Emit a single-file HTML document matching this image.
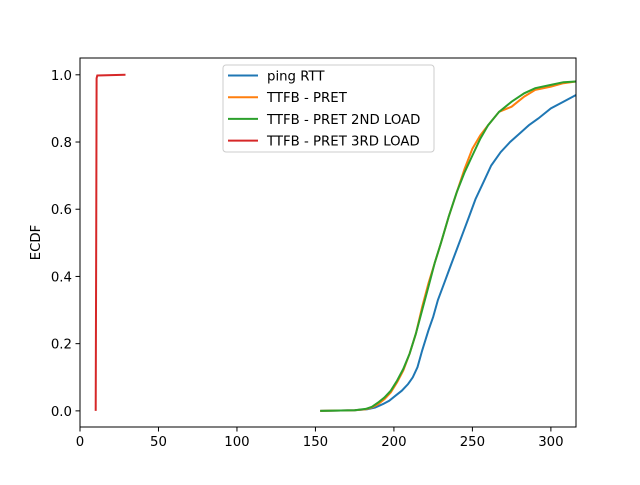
<!DOCTYPE html>
<html><head><meta charset="utf-8"><style>
body{margin:0;background:#fff;}
svg text{font-family:"DejaVu Sans","Liberation Sans",sans-serif;}
</style></head><body>
<svg id="chart" width="640" height="480">
<rect width="640" height="480" fill="#fff"/>
<g id="plot"></g>
</svg>
<script>
const xTicks=[0,50,100,150,200,250,300];
const yTicks=[0.0,0.2,0.4,0.6,0.8,1.0];
const pingX=[153,175,183,188,193,197,201,205,209,212,215,218,222,225,228,232,236,240,244,248,252,257,262,268,274,280,286,292,300,308,316];
const pingY=[0,0.002,0.005,0.01,0.02,0.03,0.045,0.06,0.08,0.1,0.13,0.18,0.24,0.28,0.33,0.38,0.43,0.48,0.53,0.58,0.63,0.68,0.73,0.77,0.8,0.825,0.85,0.87,0.9,0.92,0.94];
const pretX=[153,175,182,186,190,194,198,202,206,210,214,218,222,226,230,235,240,245,250,255,260,267,275,283,290,300,308,316];
const pretY=[0,0.002,0.005,0.01,0.02,0.035,0.055,0.085,0.12,0.17,0.23,0.31,0.38,0.44,0.5,0.58,0.65,0.72,0.78,0.82,0.85,0.89,0.905,0.935,0.955,0.965,0.975,0.98];
const pret2X=[153,175,182,186,190,194,198,202,206,210,214,218,222,226,230,235,240,245,250,255,260,267,275,283,290,300,308,316];
const pret2Y=[0,0.002,0.006,0.012,0.025,0.04,0.06,0.09,0.125,0.17,0.23,0.3,0.37,0.44,0.5,0.58,0.65,0.71,0.76,0.81,0.85,0.89,0.92,0.945,0.96,0.97,0.978,0.98];
const pret3X=[10,10.3,10.6,11,29];
const pret3Y=[0,0.5,0.99,0.998,1.0];
const series=[
 {name:"ping RTT",x:pingX,y:pingY,c:"#1f77b4",id:"ping-rtt"},
 {name:"TTFB - PRET",x:pretX,y:pretY,c:"#ff7f0e",id:"ttfb-pret"},
 {name:"TTFB - PRET 2ND LOAD",x:pret2X,y:pret2Y,c:"#2ca02c",id:"ttfb-pret-2nd-load"},
 {name:"TTFB - PRET 3RD LOAD",x:pret3X,y:pret3Y,c:"#d62728",id:"ttfb-pret-3rd-load"}];
const L=80,R=576,T=58,B=427,xmin=0,xmax=316,ymin=-0.048,ymax=1.05;
const sx=v=>L+(v-xmin)/(xmax-xmin)*(R-L);
const sy=v=>B-(v-ymin)/(ymax-ymin)*(B-T);
const NS="http://www.w3.org/2000/svg",g=document.getElementById('plot');
function mk(t,a,txt){const e=document.createElementNS(NS,t);for(const k in a)e.setAttribute(k,a[k]);if(txt!==undefined)e.textContent=txt;g.appendChild(e);return e;}
const clip=document.createElementNS(NS,'clipPath');clip.setAttribute('id','cp');
const cr=document.createElementNS(NS,'rect');cr.setAttribute('x',L);cr.setAttribute('y',T);cr.setAttribute('width',R-L);cr.setAttribute('height',B-T);clip.appendChild(cr);g.appendChild(clip);
series.forEach(s=>{
 const p=s.x.map((v,i)=>sx(v).toFixed(1)+","+sy(s.y[i]).toFixed(1)).join(" ");
 const e=mk('polyline',{points:p,fill:"none",stroke:s.c,"stroke-width":2,"clip-path":"url(#cp)"});
 
 
});
const ax=mk('rect',{x:L,y:T,width:R-L,height:B-T,fill:"none",stroke:"#000","stroke-width":1});


xTicks.forEach(v=>{const x=sx(v);mk('line',{x1:x,x2:x,y1:B,y2:B+4.5,stroke:"#000","stroke-width":1});
 const t=mk('text',{x:x,y:B+19,"text-anchor":"middle","font-size":13.3},String(v));
 
 });
yTicks.forEach(v=>{const y=sy(v);mk('line',{x1:L-4.5,x2:L,y1:y,y2:y,stroke:"#000","stroke-width":1});
 const t=mk('text',{x:L-8,y:y+5,"text-anchor":"end","font-size":13.3},v.toFixed(1));
 
 });
const yt=mk('text',{x:40,y:(T+B)/2,"text-anchor":"middle","font-size":13.3,transform:`rotate(-90 40 ${(T+B)/2})`},"ECDF");


const lg=mk('rect',{x:223,y:65,width:211,height:87,rx:3,fill:"#fff","fill-opacity":0.8,stroke:"#ccc"});


series.forEach((s,i)=>{const y=75.5+i*21.7;
 mk('line',{x1:228,x2:258,y1:y,y2:y,stroke:s.c,"stroke-width":2});
 const t=mk('text',{x:267,y:y+5,"font-size":13.3},s.name);
 
 });
</script>
</body></html>
